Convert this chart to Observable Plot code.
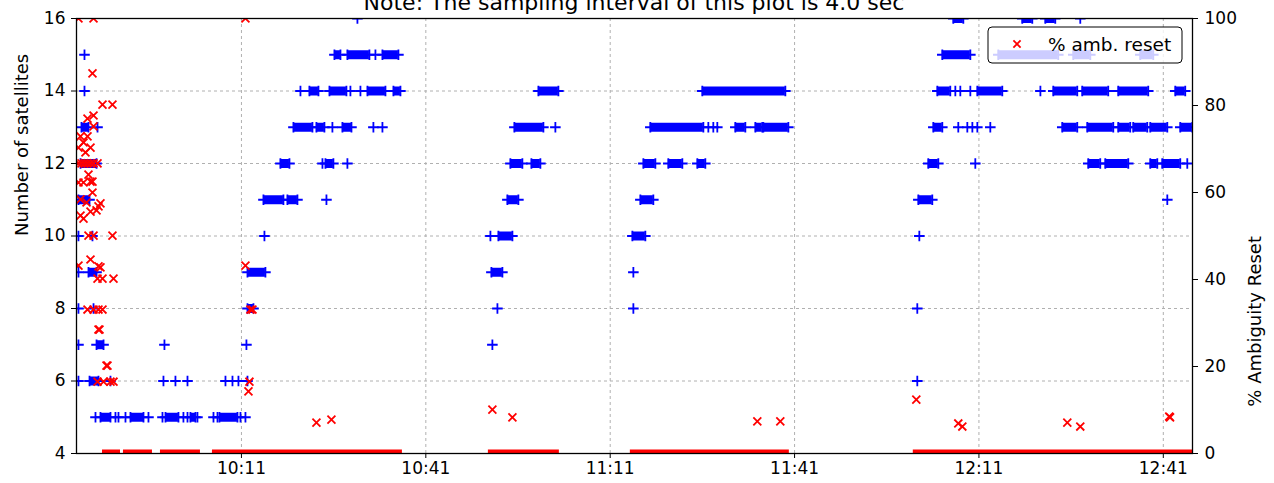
<!DOCTYPE html>
<html><head><meta charset="utf-8">
<script src="https://cdn.jsdelivr.net/npm/d3@7"></script>
<script src="https://cdn.jsdelivr.net/npm/@observablehq/plot@0.6"></script>
<style>html,body{margin:0;padding:0;background:#fff;overflow:hidden}</style>
</head><body><div id="chart"></div>
<script>
const titleText = "Note: The sampling interval of this plot is 4.0 sec";
const yLabelLeft = "Number of satellites";
const yLabelRight = "% Ambiguity Reset";
const legendLabel = "% amb. reset";
const timeTickLabels = ["10:11","10:41","11:11","11:41","12:11","12:41"];
const satTicks = [4,6,8,10,12,14,16];
const pctTicks = [0,20,40,60,80,100];
// times are minutes of the day (e.g. 611 = 10:11)
const timeDomain = [584.16, 765.75];

// dense runs of satellite-count samples: [satellites, start, end]
const satRuns = [
  [13,584.97,586.11],[12,584.81,587.42],[11,584.48,586.28],[9,586.11,587.42],
  [7,587.42,588.56],[6,586.28,587.74],[5,588.06,589.69],[5,592.94,595.06],
  [5,598.64,600.75],[5,602.70,603.52],[5,607.42,610.35],
  [9,611.98,614.90],[8,611.98,612.95],[11,614.58,617.83],[11,618.48,620.11],
  [12,617.34,618.81],[12,624.67,625.96],[13,619.46,622.55],[13,623.20,624.50],
  [13,627.43,628.90],[14,622.06,623.53],[14,625.32,628.08],[14,631.50,634.43],
  [14,635.73,636.87],[15,626.13,627.11],[15,628.24,631.82],[15,633.94,636.54],
  [9,651.67,653.46],[10,652.81,655.09],[11,654.27,656.06],[12,654.76,656.71],
  [12,658.18,659.64],[13,655.41,660.13],[14,659.32,662.57],
  [10,674.61,676.72],[11,675.91,678.02],[12,676.40,678.35],[12,680.46,682.74],
  [12,685.18,686.48],[13,677.53,686.16],[13,691.36,692.99],[13,694.62,695.75],
  [13,695.92,699.99],[14,685.99,699.50],
  [11,721.14,723.41],[12,722.76,724.39],[12,748.79,750.74],[12,751.56,755.30],
  [12,758.88,760.02],[12,760.83,763.76],[13,723.58,725.04],[13,744.56,747.00],
  [13,748.63,752.86],[13,753.67,755.62],[13,756.11,758.39],[13,758.88,761.65],
  [13,763.76,765.71],[14,724.23,726.34],[14,730.74,734.80],[14,743.10,747.00],
  [14,747.81,752.04],[14,753.67,758.55],[14,762.95,764.57],[15,725.04,729.60],
  [15,734.15,743.91],[15,746.35,749.12],[15,757.25,759.37],[16,726.83,728.46],
  [16,738.05,739.68],[16,741.80,743.42]
];
// isolated satellite-count samples: [satellites, time]
const satSingles = [
  [15,585.46],[14,585.46],[13,587.58],[10,584.48],[10,586.76],[9,584.48],
  [8,584.48],[8,586.93],[7,584.48],[7,598.47],[7,611.81],
  [6,584.48],[6,589.69],[6,598.31],[6,600.26],[6,602.22],[6,608.40],[6,609.54],
  [6,610.51],[6,611.98],
  [5,587.25],[5,590.50],[5,590.99],[5,592.13],[5,595.87],[5,598.15],[5,601.56],
  [5,602.22],[5,603.84],[5,606.45],[5,607.10],[5,610.84],[5,611.65],
  [10,614.74],[11,624.83],[12,624.18],[12,628.24],[13,625.80],[13,632.47],
  [13,633.94],[14,620.60],[14,628.73],[14,630.36],[15,632.80],[16,629.87],
  [7,651.83],[8,652.65],[10,651.51],[13,662.08],
  [8,674.77],[9,674.77],[13,686.97],[13,687.78],[13,688.43],
  [6,720.97],[8,720.97],[10,721.30],[11,761.65],[12,730.41],[12,764.90],
  [13,727.64],[13,729.11],[13,729.93],[13,730.74],[13,732.85],[14,727.16],
  [14,727.97],[14,729.60],[14,741.00],[16,747.49]
];
// ambiguity reset samples: [time, percent]
const resetPoints = [
  [584.48,100],[586.93,100],[611.65,100],[586.76,87.4],[588.39,80.2],[590.01,80.2],
  [585.95,77.0],[586.93,77.7],[586.93,75.2],[584.81,72.9],[585.95,72.9],[585.30,71.5],
  [586.44,70.3],[584.48,70.3],[585.62,69.2],
  [584.48,66.7],[584.97,66.7],[585.46,66.7],[585.95,66.7],[586.44,66.7],[586.93,66.7],[587.58,66.7],
  [586.11,64.1],[584.48,62.3],[585.30,62.3],[586.44,62.5],[586.76,62.5],[586.76,60.0],
  [584.81,58.4],[585.79,57.7],[588.06,57.5],[587.74,56.8],[584.81,54.7],[585.30,54.0],
  [586.44,55.6],[587.42,55.9],[586.11,50.1],[586.93,50.1],[590.01,50.1],
  [584.48,43.2],[586.44,44.6],[587.74,43.0],[588.06,42.8],[587.58,40.2],[588.39,40.2],
  [590.18,40.2],[585.95,33.1],[586.93,33.1],[587.74,33.1],[588.39,33.1],
  [587.74,28.5],[587.90,28.5],[589.04,20.2],[589.20,20.2],
  [587.58,16.5],[588.56,16.5],[589.69,16.5],[590.18,16.5],
  [611.65,43.2],[612.46,33.1],[612.79,33.1],[612.30,16.5],[612.14,14.3],
  [623.20,7.1],[625.64,7.8],[651.83,10.1],[655.09,8.3],[694.94,7.4],[698.68,7.4],
  [720.81,12.4],[727.64,6.9],[728.30,6.2],[745.38,7.1],[747.49,6.2],[761.97,8.5],[762.10,8.3]
];
// dense runs of 0 % ambiguity reset: [start, end]
const resetZeroRuns = [
  [588.39,591.32],[591.80,596.52],[597.82,604.33],[606.28,637.19],
  [651.18,662.73],[674.28,700.15],[720.32,765.87]
];

const base = Date.UTC(2000,0,1);
const toDate = m => new Date(base + m*60000);
const clockToMin = s => { const [h,m] = s.split(":").map(Number); return h*60+m; };
const tickDates = timeTickLabels.map(s => toDate(clockToMin(s)));
const pctToSat = p => 4 + p*12/100;   // map right axis onto left scale

const FS = 17;

function overlay(index, scales, values, dims) {
  const g = d3.create("svg:g").attr("font-family","DejaVu Sans");
  const left = dims.marginLeft, right = dims.width - dims.marginRight, top = dims.marginTop;
  g.append("text").attr("x",(left+right)/2).attr("y",9.5).attr("text-anchor","middle")
    .attr("font-size",22).attr("fill","black").text(titleText);
  const lg = g.append("g").attr("transform",`translate(${right-204},${top+9})`);
  lg.append("rect").attr("width",194).attr("height",36).attr("rx",4)
    .attr("fill","white").attr("fill-opacity",0.8).attr("stroke","black").attr("stroke-width",1);
  lg.append("path").attr("transform","translate(29,17)")
    .attr("d","M-3.6,-3.6L3.6,3.6M-3.6,3.6L3.6,-3.6").attr("stroke","red").attr("stroke-width",1.8).attr("fill","none");
  lg.append("text").attr("x",60).attr("y",17).attr("dy","0.36em").attr("font-size",18.5)
    .attr("text-anchor","start").attr("fill","black").text(legendLabel);
  return g.node();
}

const runEnds = satRuns.flatMap(d => [[d[0], d[1]], [d[0], d[2]]]);

const chart = Plot.plot({
  width: 1274, height: 483,
  marginLeft: 76, marginRight: 82, marginTop: 18, marginBottom: 30,
  style: {fontFamily: "DejaVu Sans", fontSize: FS + "px", background: "white", color: "black"},
  x: {type: "utc", domain: timeDomain.map(toDate)},
  y: {domain: [4, 16]},
  marks: [
    Plot.gridX({ticks: tickDates, stroke: "#b0b0b0", strokeOpacity: 1, strokeDasharray: "3,3", strokeWidth: 1}),
    Plot.gridY({ticks: satTicks, stroke: "#b0b0b0", strokeOpacity: 1, strokeDasharray: "3,3", strokeWidth: 1}),
    Plot.ruleY(satRuns, {y: d => d[0], x1: d => toDate(d[1]), x2: d => toDate(d[2]), stroke: "blue", strokeWidth: 9, clip: true}),
    Plot.dot(runEnds, {x: d => toDate(d[1]), y: d => d[0], symbol: "plus", r: 3.5, stroke: "blue", strokeWidth: 1.8, clip: true}),
    Plot.dot(satSingles, {x: d => toDate(d[1]), y: d => d[0], symbol: "plus", r: 3.5, stroke: "blue", strokeWidth: 1.8, clip: true}),
    Plot.ruleY(resetZeroRuns, {y: () => pctToSat(0), x1: d => toDate(d[0]), x2: d => toDate(d[1]), stroke: "red", strokeWidth: 8, clip: true}),
    Plot.dot(resetPoints, {x: d => toDate(d[0]), y: d => pctToSat(d[1]), symbol: "times", r: 3.7, stroke: "red", strokeWidth: 1.8, clip: true}),
    Plot.frame({stroke: "black", strokeWidth: 1.3}),
    Plot.axisX({ticks: tickDates, tickFormat: d3.utcFormat("%H:%M"), tickSize: 5, tickPadding: 3, label: null}),
    Plot.axisY({ticks: satTicks, tickSize: 5, tickPadding: 6, label: null}),
    Plot.axisY({anchor: "right", ticks: pctTicks.map(pctToSat), tickFormat: d => String(Math.round((d-4)*100/12)), tickSize: 5, tickPadding: 7, label: null}),
    Plot.text([yLabelLeft], {text: d => d, frameAnchor: "left", rotate: -90, dx: -54, fontSize: 18}),
    Plot.text([yLabelRight], {text: d => d, frameAnchor: "right", rotate: -90, dx: 63, fontSize: 18}),
    overlay
  ]
});
document.getElementById("chart").append(chart);
</script>
</body></html>
